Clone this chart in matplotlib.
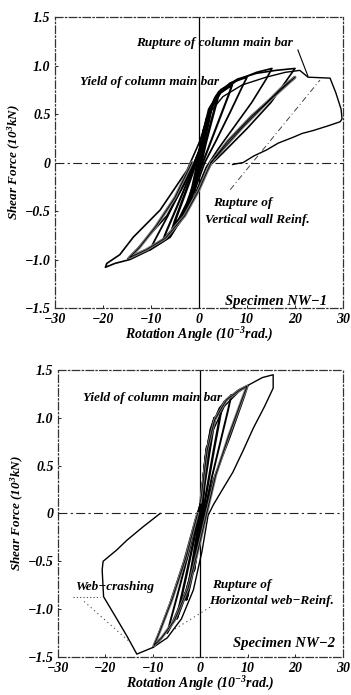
import matplotlib
matplotlib.use("Agg")
import matplotlib.pyplot as plt

plt.rcParams["mathtext.fontset"] = "custom"
plt.rcParams["mathtext.rm"] = "Liberation Serif:italic:bold"
plt.rcParams["mathtext.it"] = "Liberation Serif:italic:bold"

# hysteresis loops (x: 10^-3 rad, y: 10^3 kN)

# ---- Specimen NW-1 ----
nw1_c1_x = [0, 0.6, 1.2, 0.9, 0.2, -0.5, -1.2, -0.9, -0.2, 0]
nw1_c1_y = [0, 0.2, 0.35, 0.28, 0.05, -0.15, -0.3, -0.24, -0.05, 0]

nw1_c2_x = [0, 0.8, 1.8, 2.6, 2.3, 1.2, 0.3, -0.8, -1.8, -2.8, -2.4, -1.3, -0.3, 0]
nw1_c2_y = [0, 0.25, 0.45, 0.58, 0.5, 0.25, 0.0, -0.2, -0.38, -0.52, -0.45, -0.25, -0.02, 0.05]

nw1_c3_x = [0, 1.0, 2.2, 3.3, 4.2, 3.8, 2.6, 1.4, 0.5, -1.0, -2.5, -4.0, -5.5, -5.0, -3.5, -2.0, -0.6, 0]
nw1_c3_y = [0.05, 0.3, 0.52, 0.66, 0.73, 0.65, 0.43, 0.2, 0.0, -0.22, -0.42, -0.57, -0.68, -0.6, -0.4, -0.2, 0.0, 0.08]

nw1_c4_x = [0, 1.2, 2.8, 4.5, 6.9, 6.2, 4.5, 2.5, 0.8, -1.0, -3.0, -5.2, -7.5, -6.7, -4.8, -2.6, -0.8, 0]
nw1_c4_y = [0.08, 0.38, 0.6, 0.72, 0.8, 0.7, 0.48, 0.22, 0.0, -0.25, -0.5, -0.67, -0.8, -0.7, -0.48, -0.22, 0.0, 0.1]

nw1_c5_x = [0, 1.5, 3.5, 6.5, 10.0, 9.0, 6.5, 3.5, 1.2, -1.0, -3.5, -6.5, -10.2, -9.2, -6.5, -3.5, -1.0, 0]
nw1_c5_y = [0.1, 0.45, 0.68, 0.82, 0.88, 0.78, 0.52, 0.22, 0.0, -0.3, -0.58, -0.78, -0.9, -0.8, -0.55, -0.25, 0.0, 0.12]

nw1_c6_x = [0, 2.0, 4.5, 8.0, 12.0, 15.2, 14.0, 11.0, 7.5, 4.0, 1.5, -1.0, -4.0, -8.0, -12.0, -14.8,
            -13.0, -10.0, -6.7, -3.0, -0.8, 0]
nw1_c6_y = [0.12, 0.5, 0.72, 0.85, 0.93, 0.97, 0.86, 0.62, 0.38, 0.14, -0.05, -0.35, -0.62, -0.82, -0.93, -0.99,
            -0.9, -0.73, -0.55, -0.22, 0.02, 0.12]

nw1_c7_x = [0, 2.0, 4.5, 8.0, 12.0, 16.0, 20.0, 19.0, 15.0, 10.0, 5.0, 2.5, 0.0, -2.0, -6.0, -10.2, -14.4,
            -17.5, -19.5, -19.2, -16.5, -13.7, -8.1, -2.5, 0.0]
nw1_c7_y = [0.12, 0.55, 0.75, 0.86, 0.92, 0.95, 0.97, 0.9, 0.62, 0.35, 0.1, -0.02, -0.25, -0.45, -0.77, -0.9, -1.0,
            -1.04, -1.08, -1.04, -0.95, -0.77, -0.49, -0.08, 0.2]

nw1_c8_x = [2.5, 6.0, 11.0, 16.0, 20.0, 17.0, 13.0, 9.0, 5.0, 2.5, 0.0, -3.0, -7.0, -11.0, -14.5,
            -12.5, -9.0, -5.0, -1.5]
nw1_c8_y = [0.0, 0.22, 0.48, 0.7, 0.88, 0.76, 0.56, 0.36, 0.14, 0.0, -0.28, -0.55, -0.78, -0.9, -0.98,
            -0.88, -0.66, -0.36, 0.0]

nw1_final_x = [0, 2.0, 5.0, 9.0, 14.0, 18.0, 21.0, 22.7, 25.0, 27.3, 28.5, 29.6, 29.8, 29.4, 27.0, 23.8,
               21.5, 19.6, 16.5, 14.1, 11.5, 9.2, 7.0]
nw1_final_y = [0.2, 0.5, 0.68, 0.8, 0.88, 0.93, 0.95, 0.88, 0.875, 0.87, 0.72, 0.55, 0.45, 0.42, 0.38, 0.33,
               0.3, 0.26, 0.2, 0.13, 0.07, 0.0, -0.02]

nw1_guide_x = [6.5, 25.2]
nw1_guide_y = [-0.28, 0.85]

# ---- Specimen NW-2 ----
nw2_c1_x = [0, 0.5, 1.0, 1.5, 1.2, 0.6, 0.1, -0.4, -1.0, -1.5, -1.2, -0.6, -0.1, 0]
nw2_c1_y = [-0.05, 0.25, 0.5, 0.7, 0.6, 0.3, 0.0, -0.25, -0.45, -0.6, -0.5, -0.25, 0.0, 0.05]

nw2_c2_x = [0, 0.7, 1.5, 2.2, 3.0, 2.6, 1.7, 0.8, 0.2, -0.6, -1.5, -2.3, -3.0, -2.6, -1.6, -0.7, -0.1, 0]
nw2_c2_y = [0.0, 0.38, 0.68, 0.88, 1.0, 0.88, 0.6, 0.3, 0.0, -0.3, -0.58, -0.76, -0.9, -0.78, -0.5, -0.22, 0.02, 0.08]

nw2_c3_x = [0, 0.8, 1.8, 3.0, 4.5, 4.0, 2.8, 1.6, 0.5, -0.8, -2.0, -3.5, -5.0, -4.4, -3.0, -1.5, -0.3, 0]
nw2_c3_y = [0.05, 0.45, 0.78, 0.98, 1.12, 0.98, 0.66, 0.32, 0.0, -0.35, -0.65, -0.9, -1.1, -0.96, -0.65, -0.3, 0.0, 0.1]

nw2_c4_x = [0, 1.0, 2.2, 4.0, 6.5, 5.8, 4.2, 2.4, 0.8, -0.8, -2.5, -4.5, -7.0, -6.2, -4.3, -2.2, -0.5, 0]
nw2_c4_y = [0.1, 0.55, 0.88, 1.1, 1.24, 1.08, 0.75, 0.38, 0.0, -0.38, -0.75, -1.02, -1.25, -1.1, -0.75, -0.35, 0.0, 0.1]

nw2_c5_x = [0, 1.2, 2.7, 5.0, 8.0, 10.0, 9.2, 6.2, 2.7, 0.9, -0.8, -3.0, -6.0, -8.5, -10.0, -9.0, -6.5, -3.5, -1.0, 0]
nw2_c5_y = [0.1, 0.62, 0.96, 1.17, 1.29, 1.34, 1.22, 0.8, 0.35, 0.0, -0.4, -0.8, -1.15, -1.32, -1.4, -1.28, -0.95,
            -0.5, -0.05, 0.1]

nw2_c6_x = [0, 1.4, 3.0, 5.5, 8.3, 9.8, 8.8, 6.0, 3.2, 1.3, -0.5, -2.6, -5.5, -8.2, -9.8, -8.7, -6.0, -3.0, -0.6]
nw2_c6_y = [0.12, 0.66, 0.98, 1.19, 1.29, 1.33, 1.2, 0.82, 0.4, 0.0, -0.38, -0.78, -1.12, -1.3, -1.38, -1.25, -0.9,
            -0.45, 0.0]

nw2_final_x = [0, 2.0, 5.0, 8.0, 10.4, 13.0, 15.3, 15.3, 13.5, 11.1, 9.0, 6.8, 4.5, 2.7, 1.6, 0.3, -1.5, -4.0,
               -7.0, -10.0, -13.4, -15.5, -18.0, -20.4, -20.7, -20.5, -17.6, -15.5, -12.1, -8.5]
nw2_final_y = [0.1, 0.8, 1.12, 1.27, 1.35, 1.42, 1.45, 1.31, 1.12, 0.89, 0.66, 0.43, 0.24, 0.09, -0.02, -0.4, -0.8,
               -1.1, -1.3, -1.4, -1.47, -1.28, -1.07, -0.87, -0.59, -0.5, -0.38, -0.28, -0.14, 0.0]

nw2_lead1_x = [-24.5, -14.7]
nw2_lead1_y = [-0.92, -1.35]
nw2_lead2_x = [2.0, -5.8]
nw2_lead2_y = [-0.98, -1.22]

xticks = [-30, -20, -10, 0, 10, 20, 30]
yticks = [-1.5, -1.0, -0.5, 0, 0.5, 1.0, 1.5]
xtick_labels = ["\u221230", "\u221220", "\u221210", "0", "10", "20", "30"]
ytick_labels = ["\u22121.5", "\u22121.0", "\u22120.5", "0", "0.5", "1.0", "1.5"]

FONT = dict(family="Liberation Serif", style="italic", weight="bold")

fig = plt.figure(figsize=(3.51, 6.95), dpi=100)
ax1 = fig.add_axes([0.1567, 0.5568, 0.8205, 0.4187])
ax2 = fig.add_axes([0.1652, 0.0547, 0.812, 0.413])


def setup(ax):
    ax.set_xlim(-30, 30)
    ax.set_ylim(-1.5, 1.5)
    ax.set_xticks(xticks)
    ax.set_yticks(yticks)
    ax.set_xticklabels(xtick_labels, **FONT, fontsize=10)
    ax.set_yticklabels(ytick_labels, **FONT, fontsize=10)
    ax.tick_params(direction="in", length=2, width=0.6)
    ax.tick_params(axis="x", pad=3.5)
    ax.tick_params(axis="y", pad=3.2)
    for s in ax.spines.values():
        s.set_linestyle((0, (6, 2, 1, 2)))
        s.set_linewidth(0.9)
        s.set_color("#333333")
    ax.axvline(0, color="black", lw=0.9)
    ax.axhline(0, color="#222222", lw=0.8, ls=(0, (8, 3, 2, 3)))
    ax.set_xlabel("Rotation Angle (10$^{-3}$rad.)", **FONT, fontsize=10, labelpad=0)
    ax.set_ylabel("Shear Force (10$^{3}$kN)", **FONT, fontsize=9.5, labelpad=1)


setup(ax1)
setup(ax2)

# NW-1 loops
for lx, ly, lw in [(nw1_c1_x, nw1_c1_y, 2.6), (nw1_c2_x, nw1_c2_y, 2.2), (nw1_c3_x, nw1_c3_y, 1.8),
                   (nw1_c4_x, nw1_c4_y, 1.5), (nw1_c5_x, nw1_c5_y, 1.3), (nw1_c6_x, nw1_c6_y, 1.2),
                   (nw1_c7_x, nw1_c7_y, 1.2), (nw1_final_x, nw1_final_y, 1.0)]:
    ax1.plot(lx, ly, color="black", lw=lw)
ax1.plot(nw1_c8_x, nw1_c8_y, color="#777777", lw=2.2)
ax1.plot(nw1_c8_x, nw1_c8_y, color="black", lw=0.6)
ax1.plot(nw1_guide_x, nw1_guide_y, color="#444444", lw=0.7, ls=(0, (6, 3, 1, 3)))
ax1.plot([20.6, 22.7], [1.16, 0.89], color="black", lw=0.8)

ax1.text(3.3, 1.23, "Rupture of column main bar", ha="center", va="center", fontsize=9.5, **FONT)
ax1.text(-10.4, 0.83, "Yield of column main bar", ha="center", va="center", fontsize=9.5, **FONT)
ax1.text(2.9, -0.42, "Rupture of", ha="left", va="center", fontsize=9.5, **FONT)
ax1.text(1.3, -0.59, "Vertical wall Reinf.", ha="left", va="center", fontsize=9.5, **FONT)
ax1.text(5.4, -1.43, "Specimen NW\u22121", ha="left", va="center", fontsize=10.5, **FONT)

# NW-2 loops
for lx, ly, lw in [(nw2_c1_x, nw2_c1_y, 2.4), (nw2_c2_x, nw2_c2_y, 2.0), (nw2_c3_x, nw2_c3_y, 1.7),
                   (nw2_c4_x, nw2_c4_y, 1.4), (nw2_c5_x, nw2_c5_y, 1.2), (nw2_final_x, nw2_final_y, 1.0)]:
    ax2.plot(lx, ly, color="black", lw=lw)
ax2.plot(nw2_c6_x, nw2_c6_y, color="#777777", lw=2.0)
ax2.plot(nw2_c6_x, nw2_c6_y, color="black", lw=0.6)
ax2.plot(nw2_lead1_x, nw2_lead1_y, color="#444444", lw=0.8, ls=(0, (1, 3)))
ax2.plot(nw2_lead2_x, nw2_lead2_y, color="#444444", lw=0.8, ls=(0, (1, 3)))
ax2.plot([-26.8, -21.2], [-0.87, -0.87], color="#444444", lw=0.8, ls=(0, (1, 2)))

ax2.text(-10.2, 1.21, "Yield of column main bar", ha="center", va="center", fontsize=9.5, **FONT)
ax2.text(-18.0, -0.77, "Web\u2212crashing", ha="center", va="center", fontsize=9.5, **FONT)
ax2.text(2.4, -0.75, "Rupture of", ha="left", va="center", fontsize=9.5, **FONT)
ax2.text(1.8, -0.92, "Horizontal web\u2212Reinf.", ha="left", va="center", fontsize=9.5, **FONT)
ax2.text(6.9, -1.36, "Specimen NW\u22122", ha="left", va="center", fontsize=10.5, **FONT)

fig.savefig("out.png", dpi=100, facecolor="white")
